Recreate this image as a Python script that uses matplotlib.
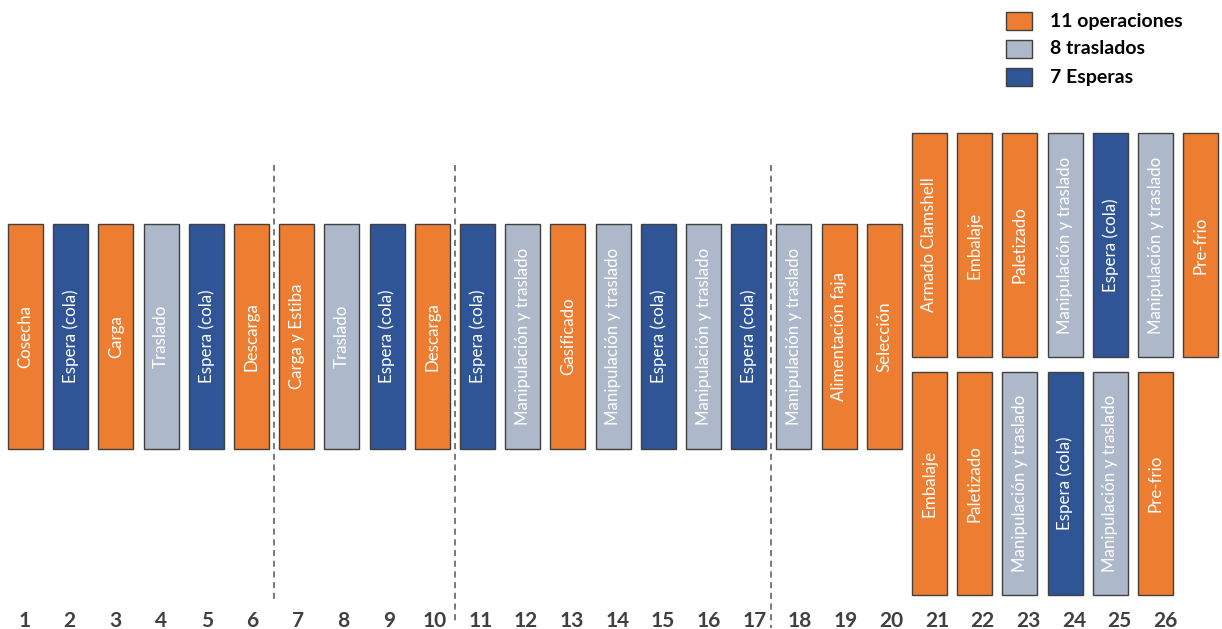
import matplotlib.pyplot as plt
from matplotlib.patches import Rectangle

# step data: column, row ("mid" = single row, "top"/"bot" = split rows), kind, label
cols = list(range(1, 21)) + [21, 22, 23, 24, 25, 26, 27] + [21, 22, 23, 24, 25, 26]
rows = ["mid"] * 20 + ["top"] * 7 + ["bot"] * 6
kinds = ["op", "esp", "op", "tras", "esp", "op", "op", "tras", "esp", "op",
         "esp", "tras", "op", "tras", "esp", "tras", "esp", "tras", "op", "op",
         "op", "op", "op", "tras", "esp", "tras", "op",
         "op", "op", "tras", "esp", "tras", "op"]
labels = ["Cosecha", "Espera (cola)", "Carga", "Traslado", "Espera (cola)", "Descarga",
          "Carga y Estiba", "Traslado", "Espera (cola)", "Descarga",
          "Espera (cola)", "Manipulación y traslado", "Gasificado", "Manipulación y traslado",
          "Espera (cola)", "Manipulación y traslado", "Espera (cola)", "Manipulación y traslado",
          "Alimentación faja", "Selección",
          "Armado Clamshell", "Embalaje", "Paletizado", "Manipulación y traslado",
          "Espera (cola)", "Manipulación y traslado", "Pre-frio",
          "Embalaje", "Paletizado", "Manipulación y traslado", "Espera (cola)",
          "Manipulación y traslado", "Pre-frio"]
step_numbers = list(range(1, 27))
separators = [6.5, 10.5, 17.5]
legend_kinds = ["op", "tras", "esp"]
legend_labels = ["11 operaciones", "8 traslados", "7 Esperas"]

colors = {"op": "#ED7D31", "tras": "#ADB9CA", "esp": "#2F5597"}
row_span = {"mid": (224, 449), "top": (133, 357), "bot": (372, 595)}
box_w = 0.775

fig = plt.figure(figsize=(12.22, 6.29), dpi=100)
ax = fig.add_axes([0, 0, 1, 1])
ax.set_xlim(1 - 25.5 / 45.2, 1 + 1196.5 / 45.2)
ax.set_ylim(629, 0)
ax.axis("off")

for c, r, k, lab in zip(cols, rows, kinds, labels):
    y0, y1 = row_span[r]
    ax.add_patch(Rectangle((c - box_w / 2, y0), box_w, y1 - y0,
                           facecolor=colors[k], edgecolor="#404040", linewidth=1.0))
    ax.text(c, (y0 + y1) / 2, lab, rotation=90, ha="center", va="center",
            color="white", fontsize=12.2, family="Lato")

# step numbers along the bottom
for n in step_numbers:
    ax.text(1 + (n - 1) * 1.0097 - 0.03, 621, str(n), ha="center", va="center",
            fontsize=15, fontweight="bold", color="#404040", family="Lato")

# dashed separators between stages
sep_ends = [603, 622, 628]
for s, yend in zip(separators, sep_ends):
    ax.plot([s, s], [165, yend], color="#555555", linestyle=(0, (4, 3)), linewidth=1.1)

# legend
for i, (k, lab) in enumerate(zip(legend_kinds, legend_labels)):
    y = 21 + i * 28
    ax.add_patch(Rectangle((1 + (1006 - 25.5) / 45.2, y - 9), 26 / 45.2, 18,
                           facecolor=colors[k], edgecolor="#404040", linewidth=1.0))
    ax.text(1 + (1050 - 25.5) / 45.2, y, lab, ha="left", va="center",
            fontsize=14, fontweight="bold", color="black", family="Lato")

fig.savefig("out.png", dpi=100)
